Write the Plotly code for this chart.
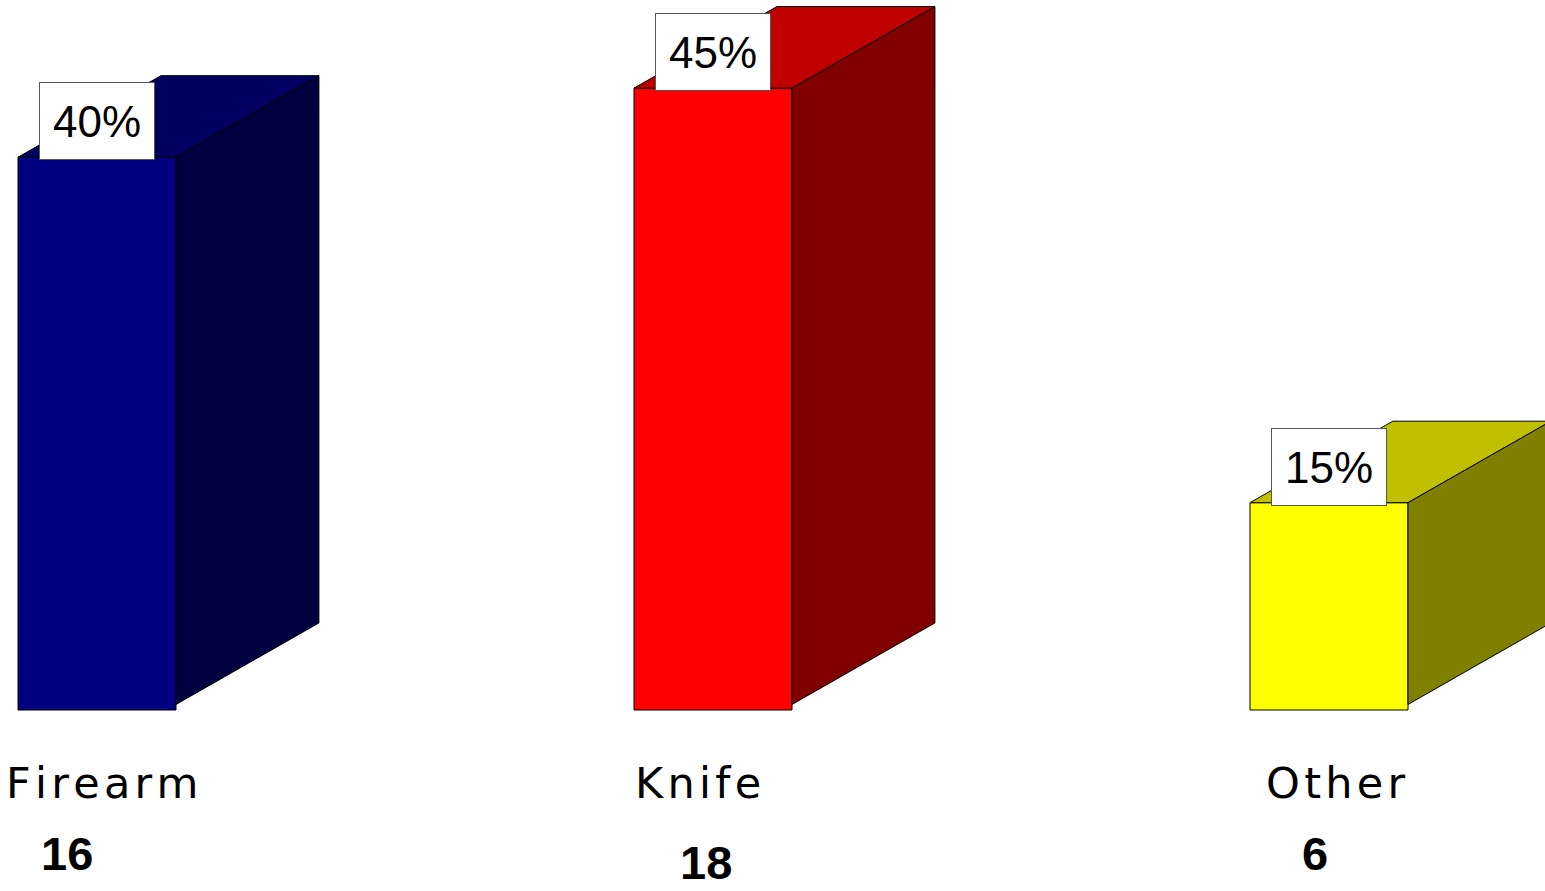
import plotly.graph_objects as go

# ---- data ----
categories = ["Firearm", "Knife", "Other"]
counts = [16, 18, 6]
percents = [40, 45, 15]
pct_labels = ["40%", "45%", "15%"]

# ---- styles ----
front_colors = ["#000080", "#FF0000", "#FFFF00"]
top_colors = ["#000060", "#C00000", "#C0C000"]
side_colors = ["#000040", "#800000", "#808000"]

BAR_W = 0.2565      # bar width in category units
DX = 0.2320         # depth offset, category units
DY = 5.9            # depth offset, percent units
SIDE_BASE = 0.4

label_xshift = [5, -15, 7]
count_xshift = [-30, -7, -14]
count_yshift = [-143, -152, -143]

HAIR = "\u200a"

xs = list(range(len(categories)))

fig = go.Figure()

# front faces
fig.add_trace(go.Bar(
    x=xs, y=percents, width=BAR_W,
    marker=dict(color=front_colors, line=dict(color="#000000", width=1)),
    hoverinfo="skip", showlegend=False,
))

for i, v in enumerate(percents):
    l = xs[i] - BAR_W / 2
    r = xs[i] + BAR_W / 2
    # top face
    fig.add_trace(go.Scatter(
        x=[l, r, r + DX, l + DX, l],
        y=[v, v, v + DY, v + DY, v],
        fill="toself", fillcolor=top_colors[i], mode="lines",
        line=dict(color="#000000", width=1), hoverinfo="skip", showlegend=False,
    ))
    # side face
    fig.add_trace(go.Scatter(
        x=[r, r + DX, r + DX, r, r],
        y=[SIDE_BASE, SIDE_BASE + DY, v + DY, v, SIDE_BASE],
        fill="toself", fillcolor=side_colors[i], mode="lines",
        line=dict(color="#000000", width=1), hoverinfo="skip", showlegend=False,
    ))

annotations = []
for i, v in enumerate(percents):
    annotations.append(dict(
        x=xs[i], y=v, xref="x", yref="y", yshift=36, showarrow=False,
        text=pct_labels[i], font=dict(family="Liberation Sans, Arial", size=44, color="#000000"),
        bgcolor="#FFFFFF", bordercolor="#555555", borderwidth=1, borderpad=1,
        width=112, height=74, xanchor="center", yanchor="middle",
    ))
    annotations.append(dict(
        x=xs[i], y=0, xref="x", yref="y", yshift=-73, xshift=label_xshift[i], showarrow=False,
        text=HAIR.join(categories[i]), font=dict(family="DejaVu Sans, Verdana", size=43, color="#000000"),
        xanchor="center", yanchor="middle",
    ))
    annotations.append(dict(
        x=xs[i], y=0, xref="x", yref="y", yshift=count_yshift[i], xshift=count_xshift[i], showarrow=False,
        text="<b>%d</b>" % counts[i], font=dict(family="Liberation Sans, Arial", size=47, color="#000000"),
        xanchor="center", yanchor="middle",
    ))

W, H = 1545, 891
PX_PER_CAT = 616.0
PX_PER_PCT = 13.82
X0_PAGE = 97      # page x of first category centre
Y0_PAGE = 710     # page y of zero line
fig.update_layout(
    width=W, height=H,
    margin=dict(l=0, r=0, t=0, b=0),
    paper_bgcolor="#FFFFFF", plot_bgcolor="#FFFFFF",
    showlegend=False,
    xaxis=dict(range=[-X0_PAGE / PX_PER_CAT, (W - X0_PAGE) / PX_PER_CAT],
               visible=False, fixedrange=True),
    yaxis=dict(range=[(Y0_PAGE - H) / PX_PER_PCT, Y0_PAGE / PX_PER_PCT],
               visible=False, fixedrange=True),
    annotations=annotations,
)

fig.write_html(
    "out.html",
    config={"displayModeBar": False},
    post_script="document.body.style.margin='0';document.body.style.overflow='hidden';",
)
